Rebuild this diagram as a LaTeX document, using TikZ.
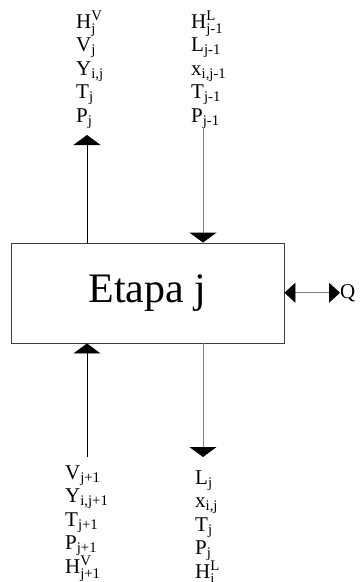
\documentclass[tikz,border=0pt]{standalone}
\usepackage{fontspec}
\usepackage{amsmath}
\setmainfont{Liberation Serif}
\usetikzlibrary{arrows.meta, positioning}
\definecolor{boxline}{RGB}{60,60,60}
\definecolor{liqline}{RGB}{128,128,128}
\tikzset{
  stage/.style={rectangle, draw=boxline, line width=0.9pt,
    minimum width=273pt, minimum height=100pt, inner sep=0pt,
    font=\fontsize{42}{46}\selectfont},
  streamlist/.style={align=left, inner sep=0pt,
    font=\fontsize{21}{23.5}\selectfont},
  vapflow/.style={-{Triangle[width=27pt,length=10pt]}, line width=0.9pt, color=black},
  liqflow/.style={-{Triangle[width=27pt,length=10pt,color=black]}, line width=0.9pt, color=liqline},
  heatflow/.style={{Triangle[width=20pt,length=11pt,color=black]}-{Triangle[width=20pt,length=11pt,color=black]},
    line width=0.9pt, color=liqline}
}

\begin{document}
\begin{tikzpicture}[x=1pt,y=-1pt]
  \useasboundingbox (0,0) rectangle (361,582);
  \node[stage] (etapa) at (147.5,293) {Etapa j};

  % streams leaving / entering at the top (base = last line)
  \node[streamlist, anchor=base west] (vapout) at (76,122)
    {H$_\text{j}^\text{V}$\\V$_\text{j}$\\Y$_\text{i,j}$\\T$_\text{j}$\\P$_\text{j}$};
  \node[streamlist, anchor=base west] (liqin) at (191,122)
    {H$_\text{j-1}^\text{L}$\\L$_\text{j-1}$\\x$_\text{i,j-1}$\\T$_\text{j-1}$\\P$_\text{j-1}$};

  % streams entering / leaving at the bottom
  \node[streamlist, anchor=base west] (vapin) at (65,573)
    {V$_\text{j+1}$\\Y$_\text{i,j+1}$\\T$_\text{j+1}$\\P$_\text{j+1}$\\H$_\text{j+1}^\text{V}$};
  \node[streamlist, anchor=base west] (liqout) at (195,578)
    {L$_\text{j}$\\x$_\text{i,j}$\\T$_\text{j}$\\P$_\text{j}$\\H$_\text{i}^\text{L}$};

  \node[streamlist, anchor=base west] (heat) at (340,298) {Q};

  \coordinate (vaptop) at (87,135);
  \coordinate (liqtop) at (203,128);
  \coordinate (vapbot) at (87,457);
  \coordinate (liqbot) at (203,457);

  \draw[vapflow] (etapa.north -| vaptop) -- (vaptop);
  \draw[liqflow] (liqtop) -- (etapa.north -| liqtop);
  \draw[vapflow] (vapbot) -- (etapa.south -| vapbot);
  \draw[liqflow] (etapa.south -| liqbot) -- (liqbot);
  \draw[heatflow] (etapa.east |- heat.west) -- (heat.west);
\end{tikzpicture}
\end{document}
